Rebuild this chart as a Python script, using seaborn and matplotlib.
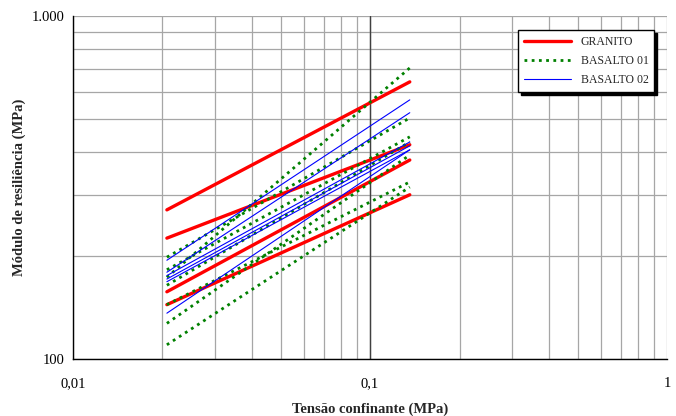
import numpy as np
import pandas as pd
import matplotlib
matplotlib.use("Agg")
import matplotlib.pyplot as plt
import matplotlib.ticker as mticker
from matplotlib.lines import Line2D
import seaborn as sns

# confining stress range covered by every test (MPa)
x_start = 0.0207
x_end = 0.136

# resilient modulus at start / end of each test (MPa)
granito_start = [272, 225, 157, 144]
granito_end = [642, 421, 380, 301]

basalto01_start = [198, 182, 173, 164, 144, 127, 110]
basalto01_end = [504, 444, 705, 429, 328, 393, 317]

basalto02_start = [194, 179, 175, 171, 168, 136]
basalto02_end = [569, 522, 429, 418, 407, 407]

series = ["GRANITO", "BASALTO 01", "BASALTO 02"]

# =====================================
# BUILD LONG TABLE
# =====================================
rows = []
for name, starts, ends in [
    ("GRANITO", granito_start, granito_end),
    ("BASALTO 01", basalto01_start, basalto01_end),
    ("BASALTO 02", basalto02_start, basalto02_end),
]:
    for i, (a, b) in enumerate(zip(starts, ends)):
        rows.append({"serie": name, "id": f"{name}_{i}", "x": x_start, "y": a})
        rows.append({"serie": name, "id": f"{name}_{i}", "x": x_end, "y": b})
df = pd.DataFrame(rows)

sns.set_style("white")
plt.rcParams["font.family"] = ["Liberation Serif", "DejaVu Serif"]

colors = {"GRANITO": "#ff0000", "BASALTO 01": "#008000", "BASALTO 02": "#0000ff"}
widths = {"GRANITO": 2.4, "BASALTO 01": 2.0, "BASALTO 02": 0.8}
dashes = {"GRANITO": "", "BASALTO 01": (1, 1.6), "BASALTO 02": ""}

fig = plt.figure(figsize=(6.76, 4.16), dpi=100)
ax = fig.add_axes([0.108, 0.137, 0.879, 0.825])

ax.set_xscale("log")
ax.set_yscale("log")
ax.set_xlim(0.01, 1)
ax.set_ylim(100, 1000)

# grid
ax.grid(True, which="both", color="#a6a6a6", linewidth=0.9)
ax.set_axisbelow(True)
ax.axvline(0.1, color="#404040", linewidth=1.0, zorder=1)

sns.lineplot(
    data=df, x="x", y="y", hue="serie", units="id", estimator=None,
    palette=colors, size="serie", sizes=widths, style="serie", dashes=dashes,
    hue_order=series, legend=False, ax=ax, zorder=3,
)

# ticks
ax.xaxis.set_major_locator(mticker.FixedLocator([0.01, 0.1, 1]))
ax.xaxis.set_major_formatter(mticker.FixedFormatter(["0,01", "0,1", "1"]))
ax.yaxis.set_major_locator(mticker.FixedLocator([100, 1000]))
ax.yaxis.set_major_formatter(mticker.FixedFormatter(["100", "1.000"]))
ax.xaxis.set_minor_locator(mticker.LogLocator(base=10, subs=np.arange(2, 10)))
ax.yaxis.set_minor_locator(mticker.LogLocator(base=10, subs=np.arange(2, 10)))
ax.yaxis.set_minor_formatter(mticker.NullFormatter())
ax.xaxis.set_minor_formatter(mticker.NullFormatter())
ax.tick_params(axis="both", which="major", direction="out", length=4, width=1,
               colors="black", labelsize=10.5)
ax.tick_params(axis="x", which="major", pad=9)
ax.tick_params(axis="y", which="major", pad=2)
ax.tick_params(axis="both", which="minor", length=0)

for s in ["top", "right"]:
    ax.spines[s].set_visible(False)
for s in ["left", "bottom"]:
    ax.spines[s].set_color("black")
    ax.spines[s].set_linewidth(1.0)

ax.set_xlabel("Tensão confinante (MPa)", fontsize=10.5, fontweight="bold", labelpad=9)
ax.set_ylabel("Módulo de resiliência (MPa)", fontsize=10.5, fontweight="bold", labelpad=4)

handles = [
    Line2D([], [], color=colors["GRANITO"], lw=2.4),
    Line2D([], [], color=colors["BASALTO 01"], lw=2.0, dashes=(1, 1.6)),
    Line2D([], [], color=colors["BASALTO 02"], lw=0.8),
]
leg = ax.legend(
    handles, series, loc="upper left", bbox_to_anchor=(0.749, 0.958),
    frameon=True, fancybox=False, shadow={"color": "black", "alpha": 1},
    edgecolor="black", framealpha=1, fontsize=8.5, handlelength=4.0,
    borderpad=0.5, labelspacing=0.6, borderaxespad=0,
)
leg.get_frame().set_linewidth(1.0)

fig.savefig("out.png", dpi=100)
